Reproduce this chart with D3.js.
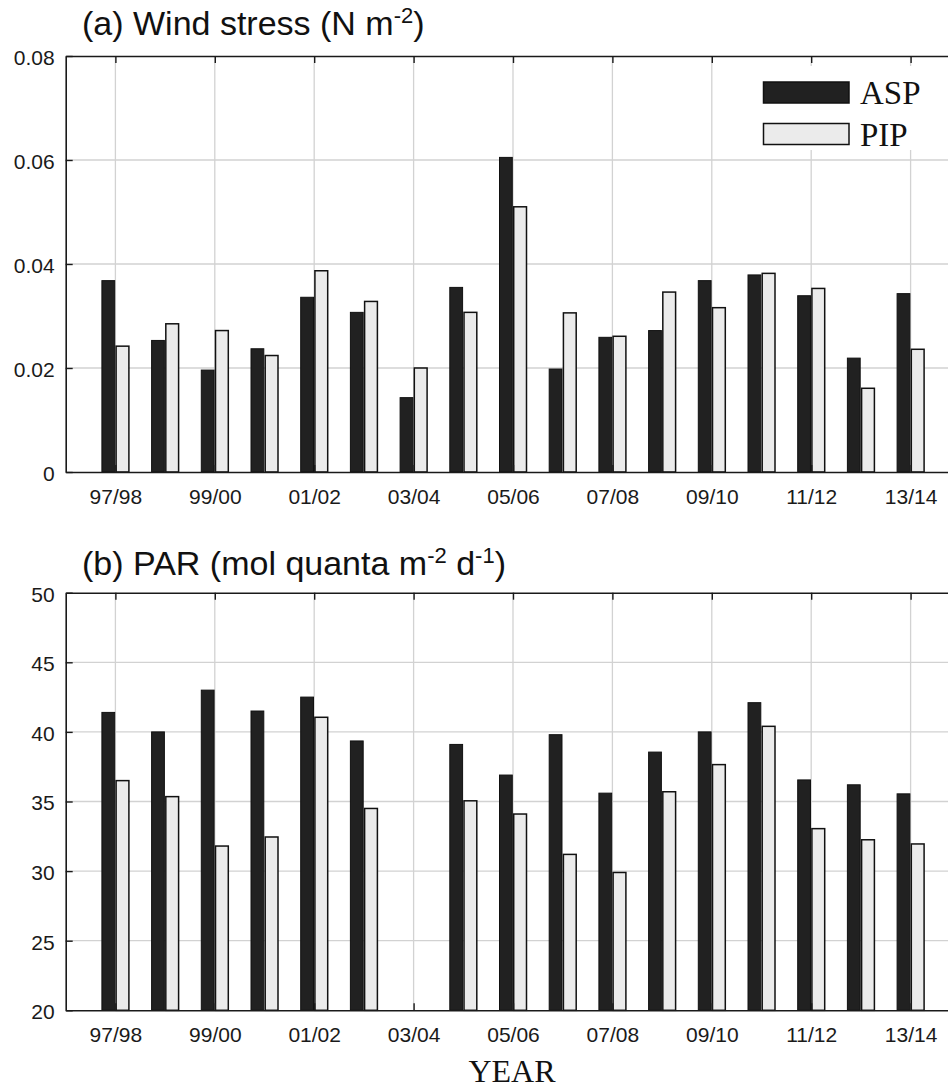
<!DOCTYPE html>
<html><head><meta charset="utf-8">
<script src="https://cdn.jsdelivr.net/npm/d3@7"></script>
<style>html,body{margin:0;padding:0;background:#fff;overflow:hidden}svg{display:block}</style>
</head><body>
<script>
const categories = ['97/98','98/99','99/00','00/01','01/02','02/03','03/04','04/05','05/06','06/07','07/08','08/09','09/10','10/11','11/12','12/13','13/14'];
const tickLabels = ['97/98','99/00','01/02','03/04','05/06','07/08','09/10','11/12','13/14'];
const seriesNames = ['ASP','PIP'];
const windASP = [0.0368,0.0253,0.0196,0.0237,0.0336,0.0307,0.0143,0.0355,0.0605,0.0198,0.0259,0.0272,0.0368,0.0379,0.0339,0.0219,0.0343];
const windPIP = [0.0242,0.0285,0.0272,0.0224,0.0387,0.0328,0.0200,0.0307,0.0510,0.0306,0.0261,0.0346,0.0316,0.0382,0.0353,0.0161,0.0236];
const parASP = [41.4,40.0,43.0,41.5,42.5,39.35,null,39.1,36.9,39.8,35.6,38.55,40.0,42.1,36.55,36.2,35.55];
const parPIP = [36.5,35.35,31.8,32.45,41.05,34.5,null,35.05,34.1,31.2,29.9,35.7,37.65,40.4,33.05,32.25,31.95];
const windTicks = [0,0.02,0.04,0.06,0.08];
const parTicks = [20,25,30,35,40,45,50];

const W = 948, H = 1092;
const svg = d3.select('body').append('svg').attr('width', W).attr('height', H);
const sans = 'Liberation Sans, Arial, Helvetica, sans-serif';
const serif = 'Liberation Serif, Times New Roman, serif';

const left = 65.7, right = 960.3;
const x = d3.scaleLinear().domain([-1, 17]).range([left, right]);
const sub = d3.scaleBand().domain(seriesNames).range([-13.5, 13.5]).paddingInner(0.1);
const fills = {ASP: '#212121', PIP: '#ebebeb'};

function panel(top, bottom, domain, ticks, fmt, A, P) {
  const y = d3.scaleLinear().domain(domain).range([bottom, top]);
  const g = svg.append('g');
  g.selectAll('.vg').data(tickLabels).join('line')
    .attr('x1', d => x(categories.indexOf(d))).attr('x2', d => x(categories.indexOf(d)))
    .attr('y1', top).attr('y2', bottom).attr('stroke', '#d2d2d2').attr('stroke-width', 1.3);
  g.selectAll('.hg').data(ticks.slice(1, -1)).join('line')
    .attr('x1', left).attr('x2', right).attr('y1', d => y(d)).attr('y2', d => y(d))
    .attr('stroke', '#d2d2d2').attr('stroke-width', 1.3);
  const rows = categories.map((c, i) => ({i, ASP: A[i], PIP: P[i]}));
  const grp = g.selectAll('.grp').data(rows).join('g').attr('transform', d => `translate(${x(d.i)},0)`);
  grp.selectAll('rect').data(d => seriesNames.filter(s => d[s] != null).map(s => ({s, v: d[s]}))).join('rect')
    .attr('x', d => sub(d.s)).attr('width', sub.bandwidth())
    .attr('y', d => y(d.v)).attr('height', d => y(domain[0]) - y(d.v))
    .attr('fill', d => fills[d.s]).attr('stroke', '#111').attr('stroke-width', d => d.s === 'PIP' ? 1.5 : 1);
  const xb = d3.axisBottom(x).tickValues(tickLabels.map(t => categories.indexOf(t))).tickFormat(i => categories[i]).tickSizeInner(-7).tickSizeOuter(0).tickPadding(17);
  const gx = g.append('g').attr('transform', `translate(0,${bottom})`).call(xb);
  const xt = d3.axisTop(x).tickValues(tickLabels.map(t => categories.indexOf(t))).tickFormat('').tickSizeInner(-7).tickSizeOuter(0);
  const gt = g.append('g').attr('transform', `translate(0,${top})`).call(xt);
  const yl = d3.axisLeft(y).tickValues(ticks).tickFormat(fmt).tickSizeInner(-7).tickSizeOuter(0).tickPadding(11);
  const gy = g.append('g').attr('transform', `translate(${left},0)`).call(yl);
  [gx, gt, gy].forEach(a => {
    a.select('.domain').attr('stroke', '#1a1a1a').attr('stroke-width', 1.6);
    a.selectAll('.tick line').attr('stroke', '#1a1a1a').attr('stroke-width', 1.4);
    a.selectAll('text').attr('font-family', sans).attr('font-size', 21).attr('fill', '#1a1a1a');
  });
  gy.selectAll('text').attr('dy', '0.4em');
  gx.selectAll('text').attr('dy', '0.71em');
  return y;
}

panel(56, 472, [0, 0.08], windTicks, d => d === 0 ? '0' : d3.format('.2f')(d), windASP, windPIP);
panel(592.7, 1010.3, [20, 50], parTicks, d3.format('d'), parASP, parPIP);

const t1 = svg.append('text').attr('x', 82).attr('y', 35).attr('font-family', sans).attr('font-size', 34).attr('fill', '#111');
t1.append('tspan').text('(a) Wind stress (N m');
t1.append('tspan').attr('font-size', 22).attr('dy', -12).text('-2');
t1.append('tspan').attr('dy', 12).text(')');

const t2 = svg.append('text').attr('x', 82).attr('y', 575).attr('font-family', sans).attr('font-size', 34).attr('fill', '#111');
t2.append('tspan').text('(b) PAR (mol quanta m');
t2.append('tspan').attr('font-size', 22).attr('dy', -12).text('-2');
t2.append('tspan').attr('dy', 12).text(' d');
t2.append('tspan').attr('font-size', 22).attr('dy', -12).text('-1');
t2.append('tspan').attr('dy', 12).text(')');

const lg = svg.append('g');
lg.append('rect').attr('x', 722).attr('y', 66).attr('width', 240).attr('height', 84).attr('fill', '#fff');
seriesNames.forEach((s, k) => {
  const yy = 82 + k * 41.5;
  lg.append('rect').attr('x', 763.5).attr('y', yy).attr('width', 85.5).attr('height', 21)
    .attr('fill', fills[s]).attr('stroke', '#111').attr('stroke-width', 1.5);
  lg.append('text').attr('x', 860).attr('y', yy + 22).attr('font-family', serif).attr('font-size', 33).attr('fill', '#111').text(s);
});

svg.append('text').attr('x', 512).attr('y', 1082).attr('text-anchor', 'middle').attr('font-family', serif).attr('font-size', 32).attr('fill', '#111').text('YEAR');
</script>
</body></html>
